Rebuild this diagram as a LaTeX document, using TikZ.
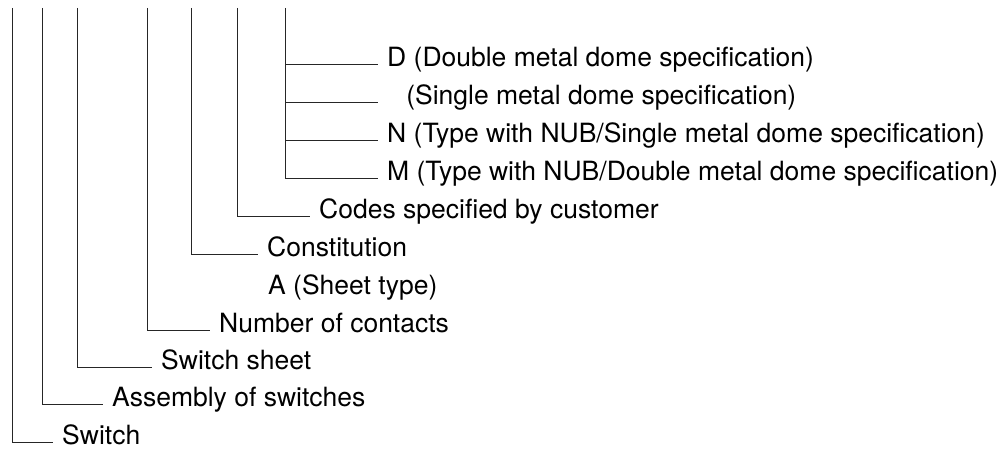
\documentclass[tikz,border=0pt]{standalone}
\usepackage{fontspec}
\setmainfont{TeX Gyre Heros}
\tikzset{lbl/.style={anchor=mid west,inner xsep=9pt,inner ysep=0pt,font=\fontsize{26.5}{30}\selectfont},tree/.style={draw=black!85,line width=0.8pt}}

\begin{document}
\begin{tikzpicture}[x=1pt,y=-1pt]
\useasboundingbox (0,0) rectangle (1002,454);
% tops of the code columns
\coordinate (c1) at (12,8);
\coordinate (c2) at (42,8);
\coordinate (c3) at (77,8);
\coordinate (c4) at (147,8);
\coordinate (c5) at (191,8);
\coordinate (c6) at (237,8);
\coordinate (c7) at (285,8);
% labels
\node[lbl] (sw) at (53,442) {Switch};
\node[lbl] (asm) at (103,404) {Assembly of switches};
\node[lbl] (sheet) at (152,367) {Switch sheet};
\node[lbl] (cont) at (210,330) {Number of contacts};
\node[lbl] (typ) at (259,292) {A (Sheet type)};
\node[lbl] (constit) at (258,254) {Constitution};
\node[lbl] (codes) at (310,216) {Codes specified by customer};
\node[lbl] (m) at (378,178) {M (Type with NUB/Double metal dome specification)};
\node[lbl] (n) at (378,140) {N (Type with NUB/Single metal dome specification)};
\node[lbl] (s) at (378,102) {\phantom{D}(Single metal dome specification)};
\node[lbl] (d) at (378,64) {D (Double metal dome specification)};
% connectors
\draw[tree] (c1) |- (sw.mid west);
\draw[tree] (c2) |- (asm.mid west);
\draw[tree] (c3) |- (sheet.mid west);
\draw[tree] (c4) |- (cont.mid west);
\draw[tree] (c5) |- (constit.mid west);
\draw[tree] (c6) |- (codes.mid west);
\draw[tree] (c7) |- (m.mid west);
\draw[tree] (c7 |- n.mid west) -- (n.mid west);
\draw[tree] (c7 |- s.mid west) -- (s.mid west);
\draw[tree] (c7 |- d.mid west) -- (d.mid west);
\end{tikzpicture}
\end{document}
